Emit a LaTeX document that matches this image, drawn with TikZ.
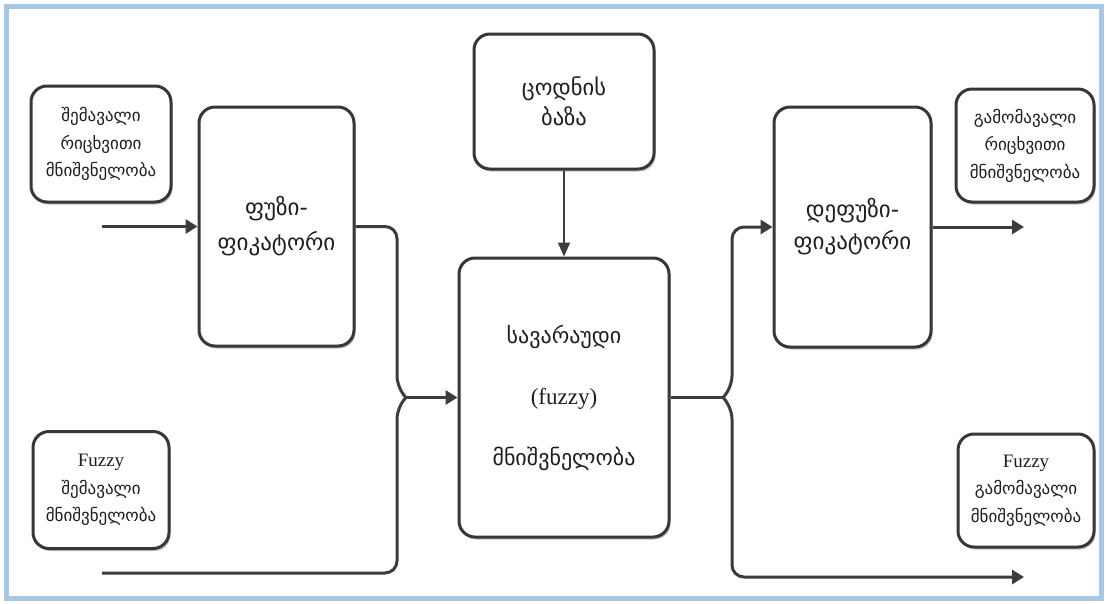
\documentclass[tikz,border=0pt]{standalone}
\usepackage{fontspec}
\setmainfont{Liberation Serif}
\newfontfamily\geo{DejaVu Sans}
\usetikzlibrary{arrows.meta,shadows}
\definecolor{framebl}{RGB}{169,198,228}
\definecolor{boxgray}{RGB}{55,55,55}
\definecolor{linkgray}{RGB}{60,60,60}
\definecolor{txt}{RGB}{30,30,30}
\newcommand\ka[1]{{\geo #1}}
\begin{document}
\begin{tikzpicture}[x=1pt,y=-1pt,
  box/.style={draw=boxgray, line width=3pt, rounded corners=16pt, fill=white,
    align=center, inner sep=0pt, text=txt,
    drop shadow={shadow xshift=1.5pt,shadow yshift=-2.5pt,opacity=.35,fill=black!70}},
  small/.style={box, font=\fontsize{17}{27.5}\selectfont},
  big/.style={box, font=\fontsize{23}{35}\selectfont},
  link/.style={draw=linkgray, line width=3pt},
  tip/.style={-{Triangle[length=12pt,width=14pt]}},
]
\useasboundingbox (0,0) rectangle (1107,603);
\fill[white] (0,0) rectangle (1107,603);
% outer frame
\draw[framebl, line width=5pt] (6,6) rectangle (1101,598);

% boxes
\node[small, minimum width=140pt, minimum height=116pt] (inNum) at (101,144)
  {\ka{შემავალი}\\ \ka{რიცხვითი}\\ \ka{მნიშვნელობა}};
\node[big, minimum width=155pt, minimum height=239pt] (fuzz) at (276.5,226.5)
  {\ka{ფუზი-}\\ \ka{ფიკატორი}};
\node[box, font=\fontsize{22.5}{30}\selectfont, minimum width=180pt, minimum height=135pt] (kb) at (564,101.5)
  {\ka{ცოდნის}\\ \ka{ბაზა}};
\node[box, font=\fontsize{22}{61}\selectfont, minimum width=210pt, minimum height=279pt] (core) at (564,397.5)
  {\ka{სავარაუდი}\\ {\fontsize{23}{61}\selectfont(fuzzy)}\\ \ka{მნიშვნელობა}};
\node[big, font=\fontsize{23}{32}\selectfont, minimum width=157pt, minimum height=240pt] (defuzz) at (852.5,227)
  {\ka{დეფუზი-}\\ \ka{ფიკატორი}};
\node[small, minimum width=138pt, minimum height=113pt] (outNum) at (1025,145.5)
  {\ka{გამომავალი}\\ \ka{რიცხვითი}\\ \ka{მნიშვნელობა}};
\node[small, minimum width=136pt, minimum height=117pt] (inFz) at (101,490)
  {{\fontsize{19}{27.5}\selectfont Fuzzy}\\ \ka{შემავალი}\\ \ka{მნიშვნელობა}};
\node[small, minimum width=136pt, minimum height=113pt] (outFz) at (1026,490.5)
  {{\fontsize{19}{27.5}\selectfont Fuzzy}\\ \ka{გამომავალი}\\ \ka{მნიშვნელობა}};

% free ends and junctions
\coordinate (inA) at (102,226.5);
\coordinate (fzA) at (102,573);
\coordinate (jL) at (406,397.5);
\coordinate (jR) at (723,397.5);
\coordinate (outNumEnd) at (1024,227);
\coordinate (outFzEnd) at (1024,577);

% connectors
\draw[link,tip] (inA) -- (fuzz.west);
\draw[link,rounded corners=12pt] (fuzz.east) -- (397,226.5) -- (397,388) -- (jL);
\draw[link,rounded corners=12pt] (fzA) -- (397,573) -- (397,407) -- (jL);
\draw[link,tip] (jL) -- (core.west);
\draw[linkgray,line width=1.8pt,-{Triangle[length=14pt,width=12pt]}] (kb.south) -- (core.north);
\draw[link] (core.east) -- (jR);
\draw[link,tip,rounded corners=12pt] (jR) -- (732,388) -- (732,227) -- (defuzz.west);
\draw[link,tip,rounded corners=12pt] (jR) -- (732,407) -- (732,577) -- (outFzEnd);
\draw[link,tip] (defuzz.east) -- (outNumEnd);
\end{tikzpicture}
\end{document}
